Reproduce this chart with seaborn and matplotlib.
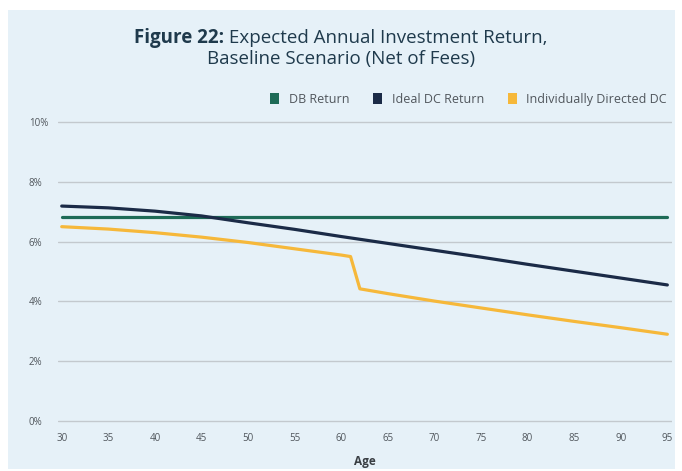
import seaborn as sns
import matplotlib.pyplot as plt
import pandas as pd
from matplotlib.patches import Patch, Rectangle

## Data (annual return, %)
ages = [30, 35, 40, 45, 50, 55, 60, 65, 70, 75, 80, 85, 90, 95]
db_return = [6.82, 6.82, 6.82, 6.82, 6.82, 6.82, 6.82, 6.82, 6.82, 6.82, 6.82, 6.82, 6.82, 6.82]
ideal_dc = [7.19, 7.13, 7.02, 6.86, 6.63, 6.41, 6.17, 5.94, 5.71, 5.48, 5.24, 5.01, 4.78, 4.55]
indiv_ages = [30, 35, 40, 45, 50, 55, 60, 61, 62, 65, 70, 75, 80, 85, 90, 95]
indiv_dc = [6.50, 6.42, 6.30, 6.15, 5.97, 5.76, 5.55, 5.50, 4.42, 4.26, 4.01, 3.78, 3.55, 3.33, 3.12, 2.90]

series_names = ["DB Return", "Ideal DC Return", "Individually Directed DC"]
y_ticks = [0, 2, 4, 6, 8, 10]
x_ticks = [30, 35, 40, 45, 50, 55, 60, 65, 70, 75, 80, 85, 90, 95]

## Long dataframe for seaborn
df = pd.concat([
    pd.DataFrame({"Age": ages, "Return": db_return, "Series": series_names[0]}),
    pd.DataFrame({"Age": ages, "Return": ideal_dc, "Series": series_names[1]}),
    pd.DataFrame({"Age": indiv_ages, "Return": indiv_dc, "Series": series_names[2]}),
], ignore_index=True)

## Colors
colors = {"DB Return": '#1e6b57', "Ideal DC Return": '#1b2b47', "Individually Directed DC": '#f6b83a'}
panel_color = '#e6f1f8'
text_color = '#50565c'
title_color = '#1f3a4c'

sns.set_style("white")
plt.rcParams['font.family'] = ['Open Sans', 'DejaVu Sans']

fig = plt.figure(figsize=(6.82, 4.71), dpi=100)
fig.patch.set_facecolor('white')
fig.patches.append(Rectangle((8 / 682, 1 - 469 / 471), 667 / 682, 459 / 471,
                             transform=fig.transFigure, facecolor=panel_color,
                             edgecolor='none', zorder=-10))

ax = fig.add_axes([58 / 682, 1 - 423 / 471, 614 / 682, 303 / 471])
ax.set_facecolor('none')
ax.set_zorder(2)

sns.lineplot(data=df, x="Age", y="Return", hue="Series", palette=colors,
             linewidth=2.3, legend=False, ax=ax, zorder=3)

ax.set_xlim(29.6, 95.5)
ax.set_ylim(-0.07, 10.07)
ax.set_yticks(y_ticks)
ax.set_yticklabels([f"{v}%" for v in y_ticks], ha='left')
ax.set_xticks(x_ticks)
ax.tick_params(axis='y', length=0, pad=21, labelsize=7, labelcolor=text_color)
ax.tick_params(axis='x', length=0, pad=7, labelsize=7, labelcolor=text_color)
ax.grid(axis='y', color='#c3c9ce', linewidth=1.0)
ax.grid(axis='x', visible=False)
for s in ax.spines.values():
    s.set_visible(False)
ax.set_xlabel("Age", fontsize=8.5, fontweight='bold', color='#3a3f44', labelpad=8)
ax.set_ylabel("")

## Legend
handles = [Patch(facecolor=colors[n], edgecolor='none', label=n) for n in series_names]
ax.legend(handles=handles, loc='lower right', bbox_to_anchor=(1.0, 1.03), ncol=3,
          frameon=False, fontsize=9, handlelength=0.75, handleheight=0.9,
          handletextpad=0.75, columnspacing=1.9, labelcolor=text_color, borderaxespad=0)

## Title with bold prefix
fig.canvas.draw()
renderer = fig.canvas.get_renderer()
t1 = fig.text(0, 1 - 38 / 471, "Figure 22:", fontsize=13.5, fontweight='bold',
              color=title_color, ha='left', va='center')
t2 = fig.text(0, 1 - 38 / 471, " Expected Annual Investment Return,", fontsize=13.5,
              color=title_color, ha='left', va='center')
w1 = t1.get_window_extent(renderer).width / fig.bbox.width
w2 = t2.get_window_extent(renderer).width / fig.bbox.width
x0 = 0.5 - (w1 + w2) / 2
t1.set_x(x0)
t2.set_x(x0 + w1)
fig.text(0.5, 1 - 59 / 471, "Baseline Scenario (Net of Fees)", fontsize=13.5,
         color=title_color, ha='center', va='center')

fig.savefig("out.png", dpi=100)
